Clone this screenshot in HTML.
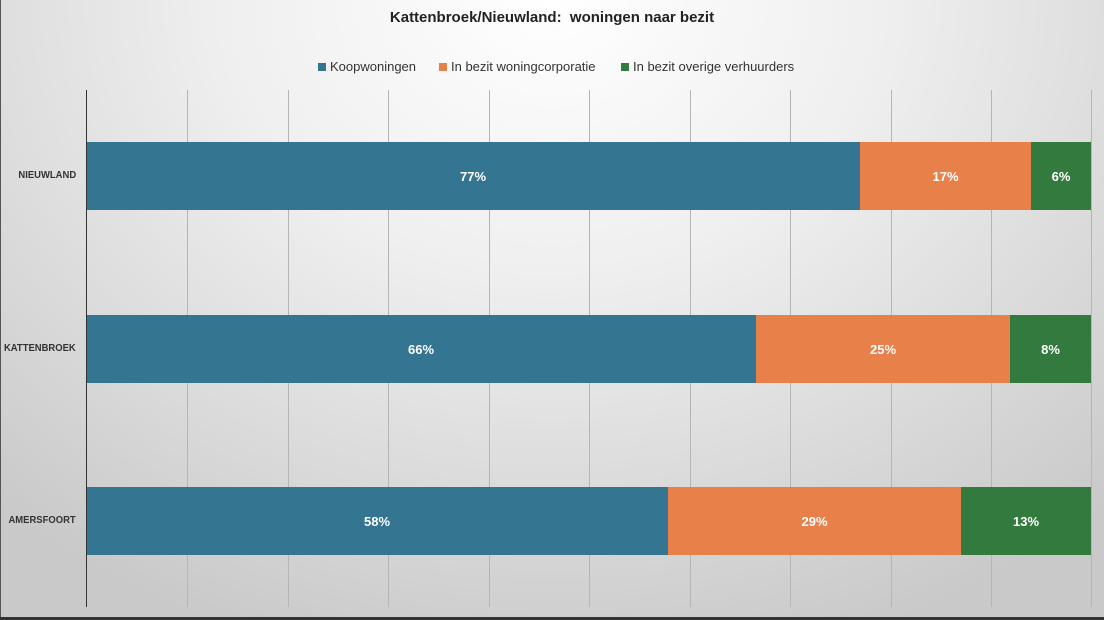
<!DOCTYPE html>
<html><head><style>
body{margin:0;}
#c{position:relative;width:1104px;height:620px;overflow:hidden;font-family:"Liberation Sans",sans-serif;
background:radial-gradient(ellipse 75% 110% at 50% 0%,#ffffff 0%,#efefef 40%,#d9d9d9 75%,#c9c9c9 100%);}
.t{position:absolute;left:0;width:1104px;text-align:center;top:9px;font-size:15px;font-weight:bold;color:#222;}
.lg{position:absolute;top:59px;font-size:13px;color:#333;}
.sw{display:inline-block;width:8px;height:8px;margin-right:4px;vertical-align:0px;}
.g{position:absolute;top:90px;height:517px;width:1px;background:#b5b5b5;}
.bar{position:absolute;height:68px;color:#fff;font-weight:bold;font-size:13px;display:flex;align-items:center;justify-content:center;box-sizing:border-box;}
.b{background:#347592;}.o{background:#e8804a;}.gr{background:#327a3e;}
.lab{position:absolute;right:1028px;font-size:10.5px;font-weight:bold;color:#333;transform:scaleX(0.9);transform-origin:right center;white-space:nowrap;}
</style></head><body><div id="c">
<div class="t">Kattenbroek/Nieuwland:&nbsp; woningen naar bezit</div>
<div class="lg" style="left:318px"><span class="sw" style="background:#347592"></span>Koopwoningen</div>
<div class="lg" style="left:439px"><span class="sw" style="background:#e8804a"></span>In bezit woningcorporatie</div>
<div class="lg" style="left:621px"><span class="sw" style="background:#327a3e"></span>In bezit overige verhuurders</div>
<div class="g" style="left:187px"></div><div class="g" style="left:288px"></div><div class="g" style="left:388px"></div>
<div class="g" style="left:489px"></div><div class="g" style="left:589px"></div><div class="g" style="left:690px"></div>
<div class="g" style="left:790px"></div><div class="g" style="left:891px"></div><div class="g" style="left:991px"></div>
<div class="g" style="left:1091px"></div>
<div class="bar b" style="left:86px;width:774px;top:142px">77%</div>
<div class="bar o" style="left:860px;width:171px;top:142px">17%</div>
<div class="bar gr" style="left:1031px;width:60px;top:142px">6%</div>
<div class="bar b" style="left:86px;width:670px;top:315px">66%</div>
<div class="bar o" style="left:756px;width:254px;top:315px">25%</div>
<div class="bar gr" style="left:1010px;width:81px;top:315px">8%</div>
<div class="bar b" style="left:86px;width:582px;top:487px">58%</div>
<div class="bar o" style="left:668px;width:293px;top:487px">29%</div>
<div class="bar gr" style="left:961px;width:130px;top:487px">13%</div>
<div class="g" style="left:86px;background:#333;"></div>
<div class="lab" style="top:169px">NIEUWLAND</div>
<div class="lab" style="top:342px">KATTENBROEK</div>
<div class="lab" style="top:514px">AMERSFOORT</div>
<div style="position:absolute;left:0;top:0;width:1px;height:620px;background:#555"></div>
<div style="position:absolute;left:0;top:617px;width:1104px;height:3px;background:#333"></div>
</div></body></html>
